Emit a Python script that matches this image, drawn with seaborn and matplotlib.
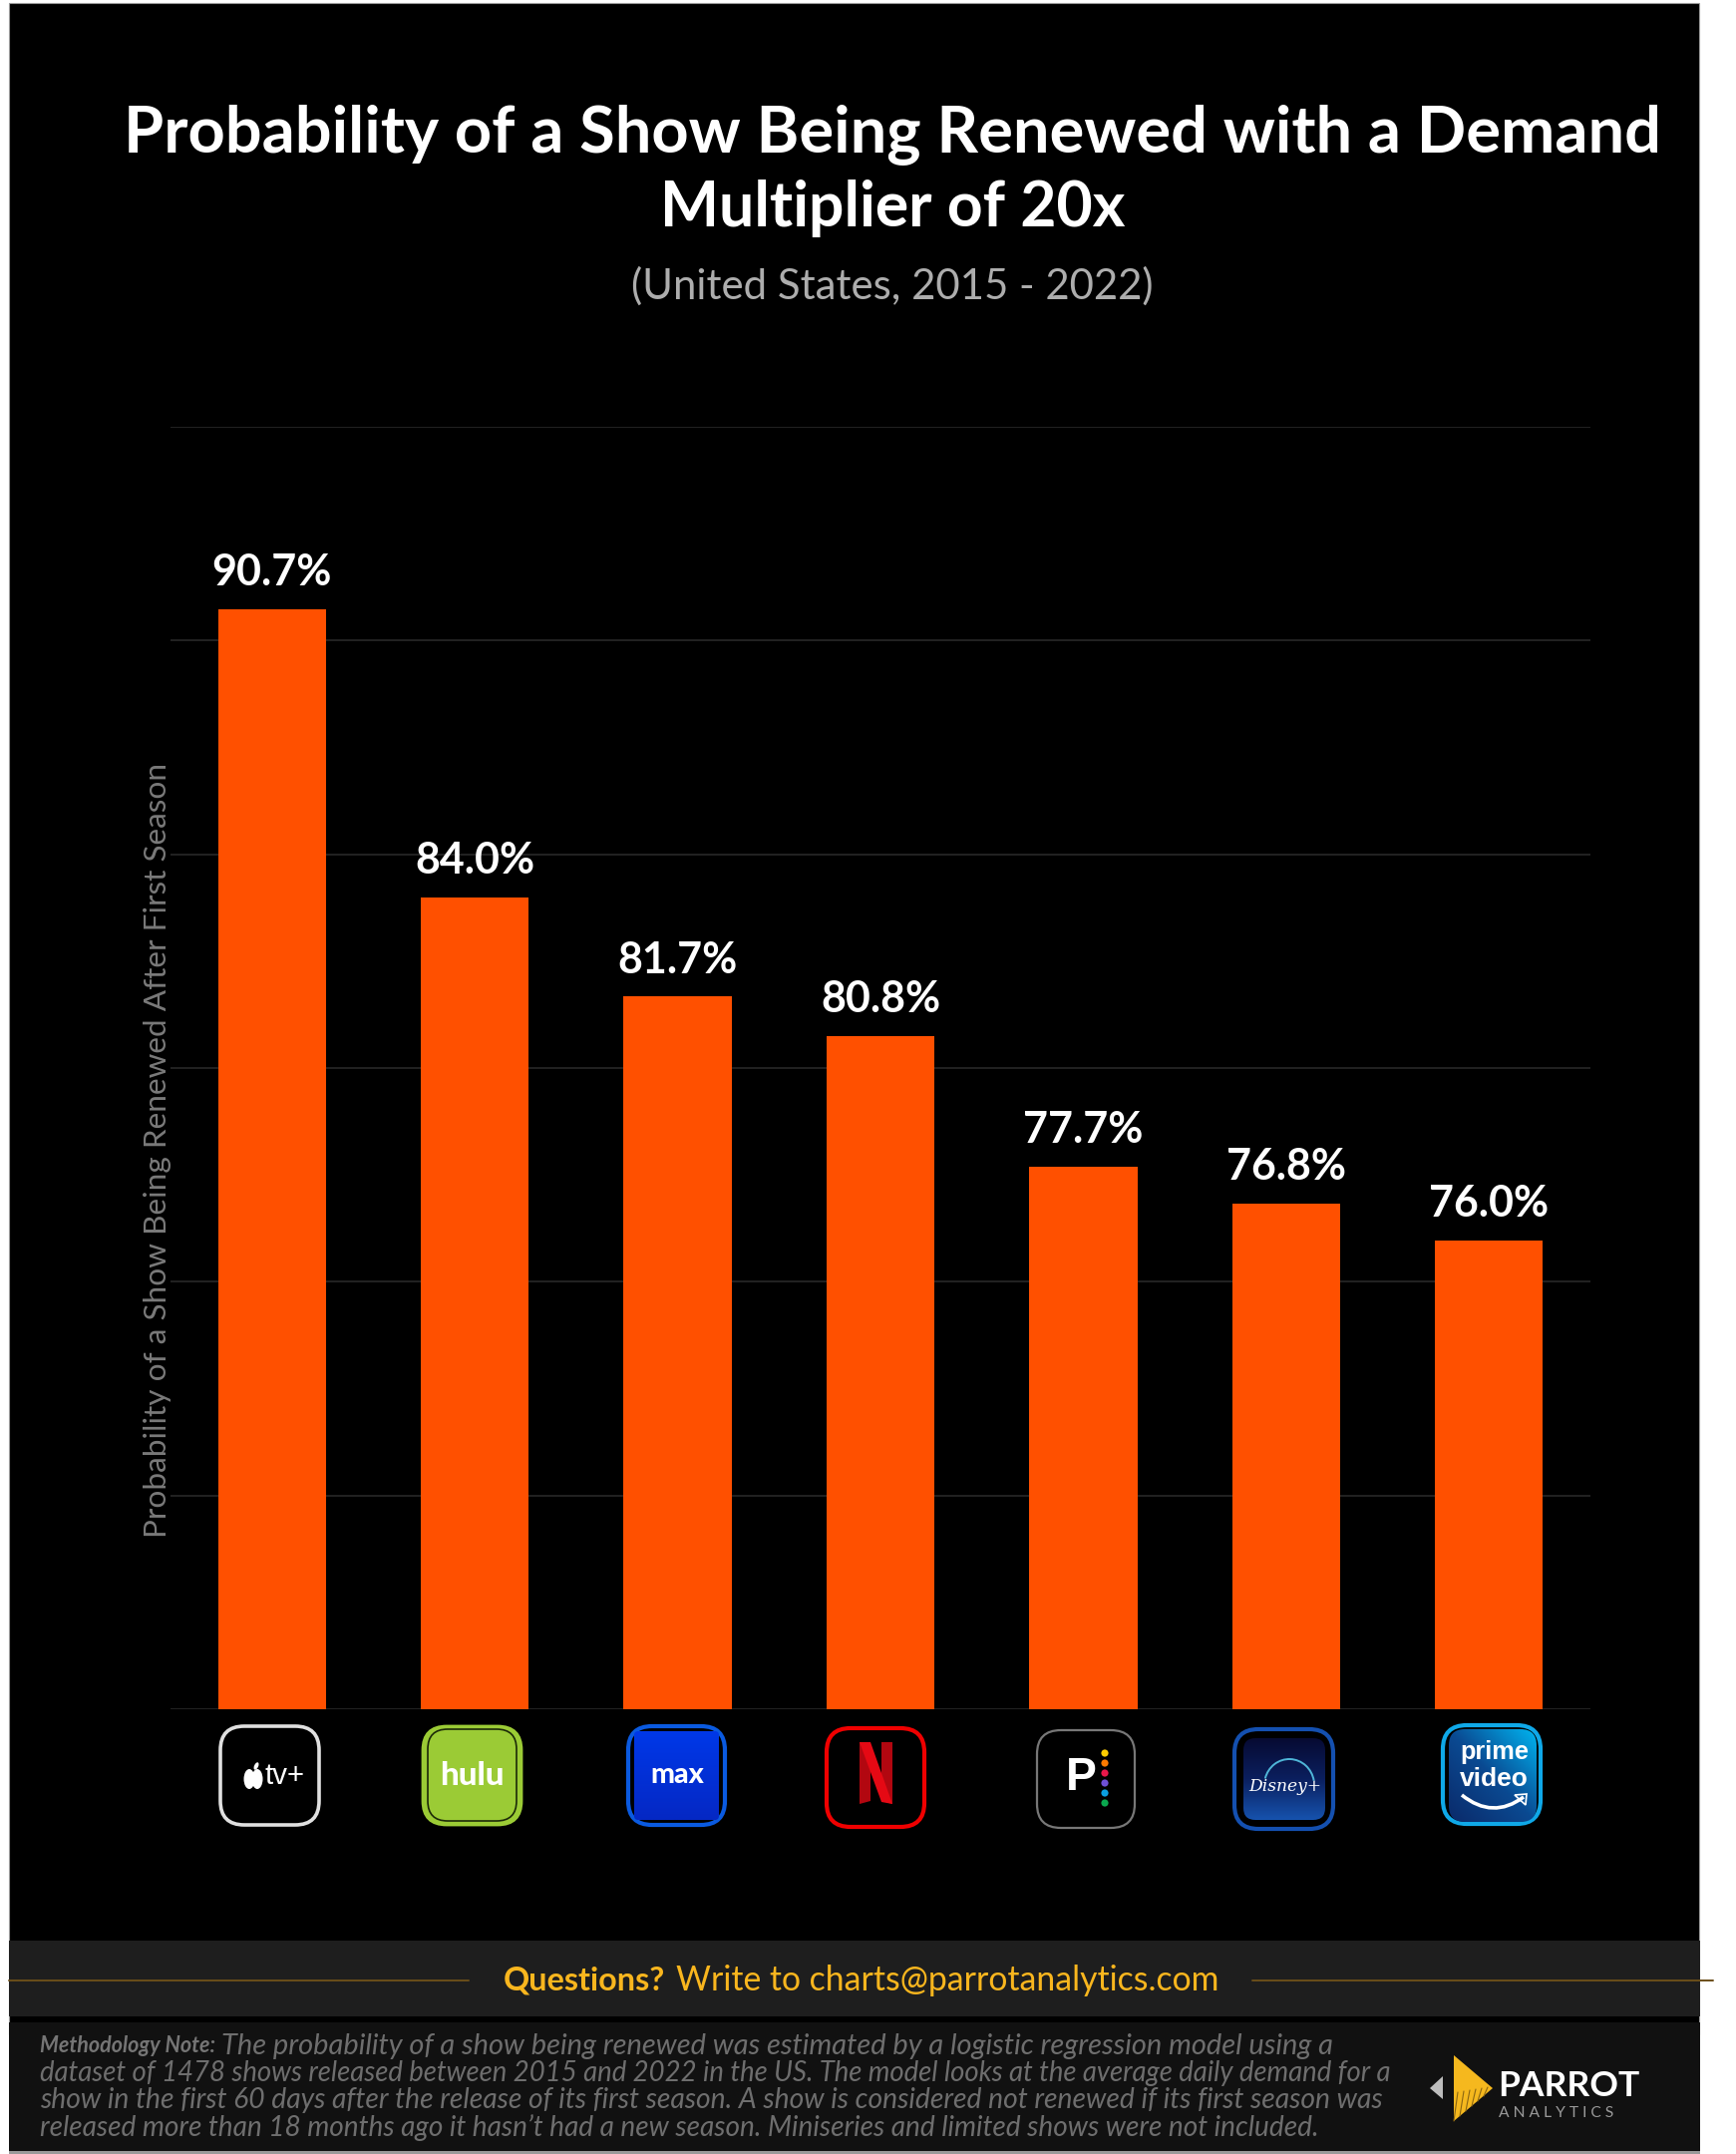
import numpy as np
import matplotlib
matplotlib.use("Agg")
import matplotlib.pyplot as plt
from matplotlib.patches import FancyBboxPatch, Rectangle, Polygon, Ellipse, Circle, Arc, PathPatch
from matplotlib.path import Path
from matplotlib.colors import LinearSegmentedColormap
import seaborn as sns

platforms = ["Apple TV+", "Hulu", "Max", "Netflix", "Peacock", "Disney+", "Prime Video"]
renewal_probability = [90.73, 84.0, 81.67, 80.75, 77.7, 76.83, 75.97]
value_labels = ["90.7%", "84.0%", "81.7%", "80.8%", "77.7%", "76.8%", "76.0%"]
y_ticks = [65, 70, 75, 80, 85, 90, 95]

title_lines = ["Probability of a Show Being Renewed with a Demand", "Multiplier of 20x"]
subtitle = "(United States, 2015 - 2022)"
y_label = "Probability of a Show Being Renewed After First Season"
note_lines = [
    "The probability of a show being renewed was estimated by a logistic regression model using a",
    "dataset of 1478 shows released between 2015 and 2022 in the US. The model looks at the average daily demand for a",
    "show in the first 60 days after the release of its first season. A show is considered not renewed if its first season was",
    "released more than 18 months ago it hasn\u2019t had a new season. Miniseries and limited shows were not included.",
]

W, H = 1741, 2160
FONT = "Lato"
NARROW = ["Liberation Sans Narrow", "Liberation Sans"]
sns.set_theme(style="dark")
plt.rcParams["font.family"] = [FONT, "DejaVu Sans"]

fig = plt.figure(figsize=(W / 100, H / 100), dpi=100, facecolor="white")
bg = fig.add_axes([0, 0, 1, 1], zorder=0)
bg.set_xlim(0, W)
bg.set_ylim(H, 0)
bg.axis("off")
renderer = fig.canvas.get_renderer()


def fit_text(x0, x1, yc, text, left=False, **kw):
    """Place text centred on yc and scale its size to span x0..x1 pixels."""
    xpos = x0 if left else (x0 + x1) / 2
    t = bg.text(xpos, yc, text, ha="left" if left else "center", va="center", fontsize=20, **kw)
    w = t.get_window_extent(renderer).width
    t.set_fontsize(20 * (x1 - x0) / w)
    return t


def rbox(x0, y0, x1, y1, r, **kw):
    p = FancyBboxPatch((x0 + r, y0 + r), x1 - x0 - 2 * r, y1 - y0 - 2 * r,
                       boxstyle=f"round,pad={r}", **kw)
    bg.add_patch(p)
    return p


def grad_box(x0, y0, x1, y1, r, colors, angle=90):
    p = rbox(x0, y0, x1, y1, r, fc="none", ec="none")
    yy, xx = np.mgrid[0:1:64j, 0:1:64j]
    a = np.deg2rad(angle)
    field = xx * np.cos(a) + yy * np.sin(a)
    cm = LinearSegmentedColormap.from_list("g", colors)
    im = bg.imshow(field, extent=(x0, x1, y1, y0), cmap=cm, aspect="auto",
                   origin="upper", zorder=2)
    im.set_clip_path(p)
    bg.set_xlim(0, W)
    bg.set_ylim(H, 0)


# page panels
bg.add_patch(Rectangle((9, 3), 1695, 2037, fc="black", ec="#9a9a9a", lw=0.8))
bg.add_patch(Rectangle((9, 1946), 1696, 76, fc="#1e1e1e", ec="none"))
bg.add_patch(Rectangle((9, 2028), 1696, 129, fc="#111111", ec="none"))
bg.add_patch(Rectangle((9, 2157), 1696, 3, fc="#9a9a9a", ec="none"))
bg.plot([9, 470], [1986, 1986], color="#6b4e1a", lw=1.4)
bg.plot([1256, 1718], [1986, 1986], color="#6b4e1a", lw=1.4)

# chart
ax = fig.add_axes([171 / W, 1 - 1714 / H, (1595 - 171) / W, (1714 - 428) / H], zorder=1)
ax.patch.set_alpha(0)
sns.barplot(x=platforms, y=renewal_probability, color="#ff5000", saturation=1,
            width=0.533, ax=ax, zorder=3, edgecolor="none", linewidth=0)
ax.set_ylim(65, 95)
ax.set_yticks(y_ticks)
ax.tick_params(left=False, bottom=False, labelleft=False, labelbottom=False)
ax.set_ylabel("")
ax.set_xlabel("")
ax.grid(axis="y", color="#222222", lw=1.4)
ax.grid(axis="x", visible=False)
ax.set_axisbelow(True)
for s in ax.spines.values():
    s.set_visible(False)
ax.bar_label(ax.containers[0], labels=value_labels, padding=12, color="white",
             fontsize=31, fontweight="bold")

# titles
fit_text(124, 1665, 135, title_lines[0], color="white", fontweight="bold")
fit_text(662, 1129, 209, title_lines[1], color="white", fontweight="bold")
fit_text(633, 1156, 287, subtitle, color="#adadad")
yl = bg.text(158, 1153, y_label, rotation=90, ha="center", va="center", color="#7a7a7a", fontsize=20)
yl.set_fontsize(20 * 776 / yl.get_window_extent(renderer).height)

# footer
fit_text(505, 667, 1986, "Questions?", color="#f9b61e", fontweight="bold")
fit_text(678, 1223, 1986, "Write to charts@parrotanalytics.com", color="#f9b61e")
note_size = 17.0
t0 = bg.text(40, 2052, "Methodology Note:", color="#757575", fontsize=note_size - 1.5,
             fontstyle="italic", fontweight="bold", va="center")
x_after = t0.get_window_extent(renderer).x1 + 6
note_spans = [(x_after, 1336), (40, 1398), (40, 1389), (40, 1325)]
note_ys = [2052, 2079, 2106, 2134]
for line, (xa, xb), yy in zip(note_lines, note_spans, note_ys):
    fit_text(xa, xb, yy, line, left=True, color="#6e6e6e", fontstyle="italic")

# Parrot Analytics logo
bg.add_patch(Polygon([(1447, 2082), (1447, 2105), (1434, 2094)], fc="#bdbdbd", ec="none"))
bg.add_patch(Polygon([(1458, 2061), (1497, 2094), (1458, 2127)], fc="#f5b81e", ec="none"))
for k in range(6):
    bg.plot([1458 + k * 6, 1458 + k * 6 + 4], [2127 - k * 5, 2098 - k * 1], color="#8a6512", lw=0.8)
fit_text(1502, 1644, 2092, "PARROT", color="white", fontweight="bold")
fit_text(1503, 1618, 2119, "A N A L Y T I C S", color="#9a9a9a")

# platform logos
# Apple TV+
rbox(221, 1731, 320, 1830, 24, fc="black", ec="#e0e0e0", lw=2.6)
bg.add_patch(Ellipse((250, 1784), 11, 20, fc="white", ec="none"))
bg.add_patch(Ellipse((258, 1784), 11, 20, fc="white", ec="none"))
bg.add_patch(Ellipse((257, 1771), 4, 8, angle=25, fc="white", ec="none"))
fit_text(266, 306, 1781, "tv+", color="white", family=NARROW)
# Hulu
rbox(424, 1731, 523, 1830, 24, fc="#9bcb35", ec="#9bcb35", lw=2)
rbox(429, 1734, 518, 1826, 20, fc="#9bcb35", ec="#1c2a08", lw=1.2)
fit_text(441, 506, 1781, "hulu", color="white", fontweight="black")
# Max
rbox(630, 1731, 727, 1830, 24, fc="black", ec="#0a5ae0", lw=3)
grad_box(636, 1736, 721, 1825, 4, ["#0038e8", "#0528c4"], angle=90)
fit_text(652, 706, 1780, "max", color="white", fontweight="black", zorder=3)
# Netflix
rbox(829, 1733, 927, 1832, 24, fc="black", ec="#f00000", lw=3)
bg.add_patch(Polygon([(862, 1747), (873, 1747), (873, 1806), (862, 1809)], fc="#b20710", ec="none"))
bg.add_patch(Polygon([(884, 1747), (895, 1747), (895, 1809), (884, 1806)], fc="#b20710", ec="none"))
bg.add_patch(Polygon([(862, 1747), (873, 1747), (895, 1809), (884, 1807)], fc="#e50914", ec="none"))
# Peacock
rbox(1040, 1735, 1138, 1833, 24, fc="black", ec="#777777", lw=1.6)
fit_text(1069, 1100, 1783, "P", color="white", fontweight="bold", family=NARROW)
for yy, col in zip([1758, 1768, 1778, 1788, 1798, 1808],
                   ["#ffcc00", "#ff7a00", "#e8174a", "#6e4fd6", "#0a9fe0", "#0aa84f"]):
    bg.add_patch(Circle((1108, yy), 3.6, fc=col, ec="none"))
# Disney+
rbox(1238, 1734, 1337, 1834, 24, fc="black", ec="#1450b0", lw=3)
grad_box(1247, 1743, 1329, 1825, 12, ["#070b33", "#0b1f5e", "#1652ad"], angle=90)
fit_text(1252, 1325, 1791, "Disney+", color="white", fontstyle="italic", zorder=3,
         family=["DejaVu Serif"])
bg.add_patch(Arc((1293, 1790), 50, 52, theta1=195, theta2=350, ec="#4fb6d8", lw=1.4, zorder=3))
# Prime Video
rbox(1447, 1730, 1545, 1829, 24, fc="black", ec="#0fa8e8", lw=3)
grad_box(1453, 1734, 1541, 1827, 16, ["#0a2a6a", "#0a4a92", "#00b4f0"], angle=-45)
fit_text(1464, 1533, 1757, "prime", color="white", fontweight="bold", zorder=3, family=NARROW)
fit_text(1464, 1533, 1784, "video", color="white", fontweight="bold", zorder=3, family=NARROW)
smile = Path([(1466, 1800), (1497, 1825), (1528, 1802)], [Path.MOVETO, Path.CURVE3, Path.CURVE3])
bg.add_patch(PathPatch(smile, fc="none", ec="white", lw=2.6, zorder=3))
bg.add_patch(Polygon([(1519, 1800), (1531, 1799), (1530, 1810)], fc="none", ec="white", lw=1.2, zorder=3))

fig.savefig("out.png", dpi=100, facecolor="white")
